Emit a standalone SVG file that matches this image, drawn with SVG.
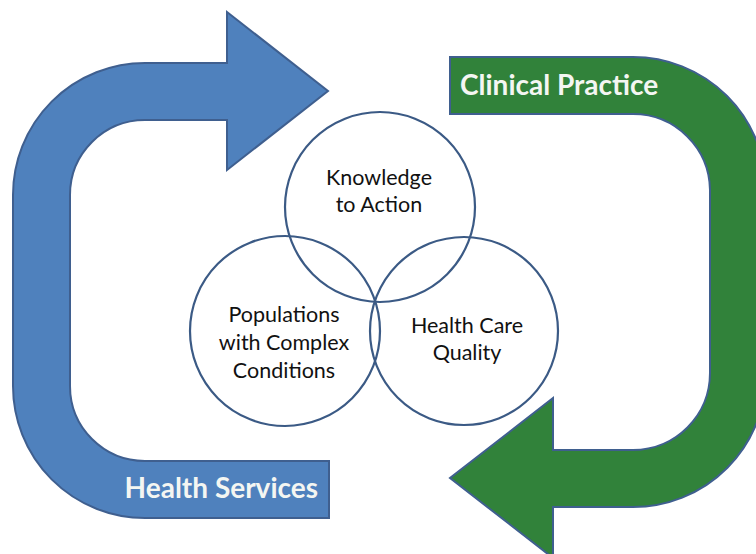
<svg xmlns="http://www.w3.org/2000/svg" width="756" height="554" viewBox="0 0 756 554">
<style>
.arrow{stroke:#3f5f8f;stroke-width:2;stroke-linejoin:miter}
.blue{fill:#4f81bd}
.green{fill:#31823a}
.circ{fill:#ffffff;fill-opacity:0;stroke:#3b5a85;stroke-width:2.2}
.lbl{font-family:Lato,"Open Sans",sans-serif;font-size:21.5px;fill:#111111;text-anchor:middle}
.title{font-family:Lato,"Open Sans",sans-serif;font-weight:bold;font-size:28px;fill:#f4f6f2}
</style>
<rect width="756" height="554" fill="#ffffff"/>
<g id="health-services">
<path class="arrow blue" d="M329,518 L145,518 A132,132 0 0 1 13,386 L13,195 A132,132 0 0 1 145,63 L227,63 L227,12 L328,91 L227,170 L227,120 L145,120 A75,75 0 0 0 70,195 L70,386 A75,75 0 0 0 145,461 L329,461 Z"/>
<text class="title" x="318" y="498" text-anchor="end">Health Services</text>
</g>
<g id="clinical-practice">
<path class="arrow green" d="M450,57 L633,57 A133,133 0 0 1 766,190 L766,373 A133,133 0 0 1 633,507 L553,507 L553,558 L450,478 L553,398 L553,450 L633,450 A77,77 0 0 0 710,373 L710,190 A77,77 0 0 0 633,114 L450,114 Z"/>
<text class="title" x="460" y="95">Clinical Practice</text>
</g>
<g id="knowledge-to-action">
<circle class="circ" cx="380" cy="207" r="95"/>
<text class="lbl" x="379" y="185">Knowledge</text>
<text class="lbl" x="379" y="212">to Action</text>
</g>
<g id="populations">
<circle class="circ" cx="285" cy="331" r="95"/>
<text class="lbl" x="284" y="322">Populations</text>
<text class="lbl" x="284" y="350">with Complex</text>
<text class="lbl" x="284" y="378">Conditions</text>
</g>
<g id="health-care-quality">
<circle class="circ" cx="464" cy="331" r="94"/>
<text class="lbl" x="467" y="333">Health Care</text>
<text class="lbl" x="467" y="360">Quality</text>
</g>
<g id="connectors"></g>
</svg>
